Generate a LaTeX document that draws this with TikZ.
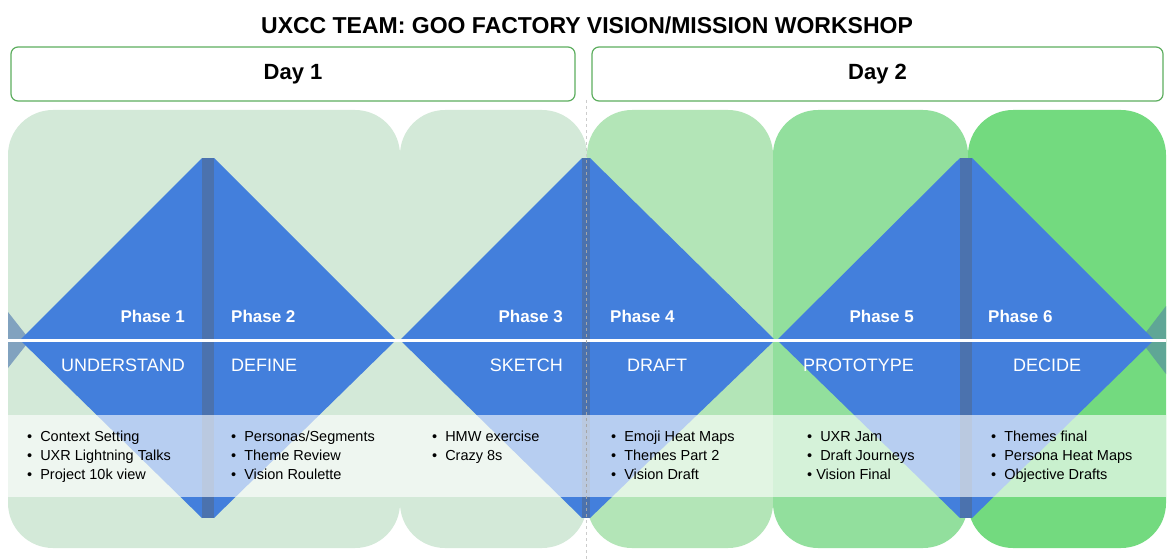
\documentclass[tikz,border=0pt]{standalone}
\usepackage{fontspec}
\setmainfont{Liberation Sans}
\definecolor{dblue}{HTML}{437FDC}
\definecolor{strip}{HTML}{4B72AE}
\definecolor{dayg}{HTML}{5DAE5F}
\definecolor{pA}{HTML}{D3E9D8}
\definecolor{pB}{HTML}{B3E5B7}
\definecolor{pC}{HTML}{92DF9D}
\definecolor{pD}{HTML}{73DA7F}
\begin{document}
\begin{tikzpicture}[x=1pt,y=-1pt,
 day/.style={draw=dayg,line width=1.2pt,rounded corners=7pt,fill=white},
 panel/.style={rounded corners=45pt},
 ph/.style={text=white,font=\fontsize{17}{20}\selectfont\bfseries,inner sep=0pt},
 nm/.style={text=white,font=\fontsize{18}{21}\selectfont,inner sep=0pt},
 lst/.style={font=\fontsize{14.5}{19}\selectfont,inner sep=0pt,anchor=north west,align=left}]
\useasboundingbox (0,0) rectangle (1174,559);
\fill[white] (0,0) rectangle (1174,559);
\node[font=\fontsize{23}{26}\selectfont\bfseries] (title) at (587,25) {UXCC TEAM: GOO FACTORY VISION/MISSION WORKSHOP};
\node[day,minimum width=564pt,minimum height=54pt] (d1) at (293,74) {};
\node[font=\fontsize{22}{24}\selectfont\bfseries] at (d1) {Day 1};
\node[day,minimum width=571pt,minimum height=54pt] (d2) at (877.5,74) {};
\node[font=\fontsize{22}{24}\selectfont\bfseries] at (d2) {Day 2};
% panels
\fill[pA,panel] (8,110) rectangle (400,548);
\fill[pA,panel] (400,110) rectangle (587,548);
\fill[pB,panel] (587,110) rectangle (773,548);
\fill[pC,panel] (773,110) rectangle (968,548);
\fill[pD,panel] (968,110) rectangle (1166,548);
% edge tips
\fill[fill=strip!60!pA] (8,312) -- (30,340) -- (8,368) -- cycle;
\fill[fill=strip!50!pD] (1166,306) -- (1140,340) -- (1166,374) -- cycle;
% triangles
\fill[dblue] (20,340) -- (202,158) -- (202,518) -- cycle;
\fill[strip] (202,158) rectangle (214,518);
\fill[dblue] (214,158) -- (396,340) -- (214,518) -- cycle;
\fill[dblue] (400,340) -- (582,158) -- (582,518) -- cycle;
\fill[strip] (582,158) rectangle (590,518);
\fill[dblue] (590,158) -- (775,340) -- (590,518) -- cycle;
\fill[dblue] (777,340) -- (960,158) -- (960,518) -- cycle;
\fill[strip] (960,158) rectangle (972,518);
\fill[dblue] (972,158) -- (1154,340) -- (972,518) -- cycle;
% divider line
\draw[white,line width=3pt] (8,340) -- (1166,340);
% bottom band
\fill[white,opacity=0.62] (8,415) rectangle (1166,497);
% day separator
\draw[gray!40,dashed,line width=0.8pt] (586,100) -- (586,559);
\draw[gray!70,dashed,line width=0.8pt] (586,160) -- (586,518);
% labels
\node[ph,anchor=base east] (p1) at (185,322) {Phase 1};
\node[nm,anchor=east] (n1) at (185,365) {UNDERSTAND};
\node[ph,anchor=base west] (p2) at (231,322) {Phase 2};
\node[nm,anchor=west] (n2) at (231,365) {DEFINE};
\node[ph,anchor=base east] (p3) at (563,322) {Phase 3};
\node[nm,anchor=east] (n3) at (563,365) {SKETCH};
\node[ph,anchor=base west] (p4) at (610,322) {Phase 4};
\node[nm,anchor=west] (n4) at (627,365) {DRAFT};
\node[ph,anchor=base east] (p5) at (914,322) {Phase 5};
\node[nm,anchor=east] (n5) at (914,365) {PROTOTYPE};
\node[ph,anchor=base west] (p6) at (988,322) {Phase 6};
\node[nm,anchor=west] (n6) at (1013,365) {DECIDE};
% lists
\node[lst] (l1) at (27,431) {•\hspace{8pt}Context Setting\\•\hspace{8pt}UXR Lightning Talks\\•\hspace{8pt}Project 10k view};
\node[lst] (l2) at (231,431) {•\hspace{8pt}Personas/Segments\\•\hspace{8pt}Theme Review\\•\hspace{8pt}Vision Roulette};
\node[lst] (l3) at (432,431) {•\hspace{8pt}HMW exercise\\•\hspace{8pt}Crazy 8s};
\node[lst] (l4) at (611,431) {•\hspace{8pt}Emoji Heat Maps\\•\hspace{8pt}Themes Part 2\\•\hspace{8pt}Vision Draft};
\node[lst] (l5) at (807,431) {•\hspace{8pt}UXR Jam\\•\hspace{8pt}Draft Journeys\\•\hspace{4pt}Vision Final};
\node[lst] (l6) at (991,431) {•\hspace{8pt}Themes final\\•\hspace{8pt}Persona Heat Maps\\•\hspace{8pt}Objective Drafts};
\end{tikzpicture}
\end{document}
